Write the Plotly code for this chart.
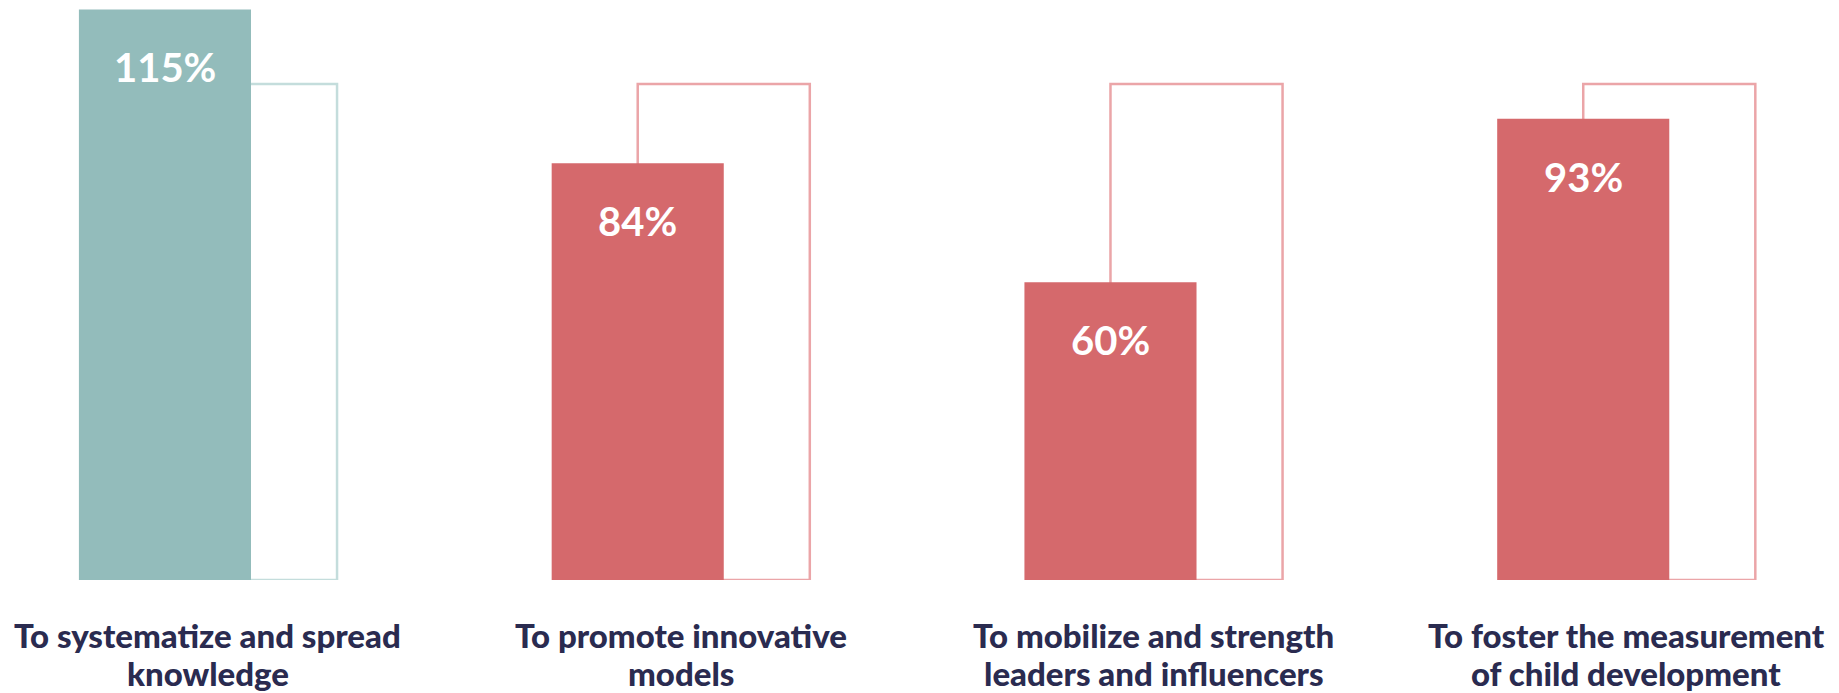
import plotly.graph_objects as go

categories = [
    "To systematize and spread<br>knowledge",
    "To promote innovative<br>models",
    "To mobilize and strength<br>leaders and influencers",
    "To foster the measurement<br>of child development",
]
achieved = [115, 84, 60, 93]
target = [100, 100, 100, 100]
value_labels = ["115%", "84%", "60%", "93%"]
fill_colors = ["#93bcbb", "#d5696c", "#d5696c", "#d5696c"]
outline_colors = ["#c4dddc", "#eba5a8", "#eba5a8", "#eba5a8"]

BAR_W = 0.364
OFF = 0.182
pos = list(range(len(categories)))

fig = go.Figure()
fig.add_trace(go.Bar(
    x=[p + OFF for p in pos], y=target, width=BAR_W,
    marker=dict(color="rgba(255,255,255,0)", line=dict(color=outline_colors, width=2.5)),
    hoverinfo="skip", showlegend=False,
))
fig.add_trace(go.Bar(
    x=pos, y=achieved, width=BAR_W,
    marker=dict(color=fill_colors, line=dict(width=0)),
    showlegend=False,
))

for p, v, t in zip(pos, achieved, value_labels):
    fig.add_annotation(x=p, y=v, text=t, showarrow=False, yanchor="middle", yshift=-58,
                       font=dict(family="Lato", size=40, color="white", weight=700))
for p, c in zip(pos, categories):
    for k, line in enumerate(c.split("<br>")):
        fig.add_annotation(x=p + OFF / 2, y=0, text=line, showarrow=False, yanchor="middle",
                           yshift=-55 - 38 * k,
                           font=dict(family="Lato", size=33, color="#2a2b50", weight=900))

fig.update_layout(
    width=1831, height=685,
    margin=dict(l=0, r=0, t=0, b=113),
    barmode="overlay",
    plot_bgcolor="white", paper_bgcolor="white",
    xaxis=dict(range=[-0.332, 3.541], visible=False),
    yaxis=dict(range=[0, 115.3], visible=False),
)
fig.write_html("out.html")
